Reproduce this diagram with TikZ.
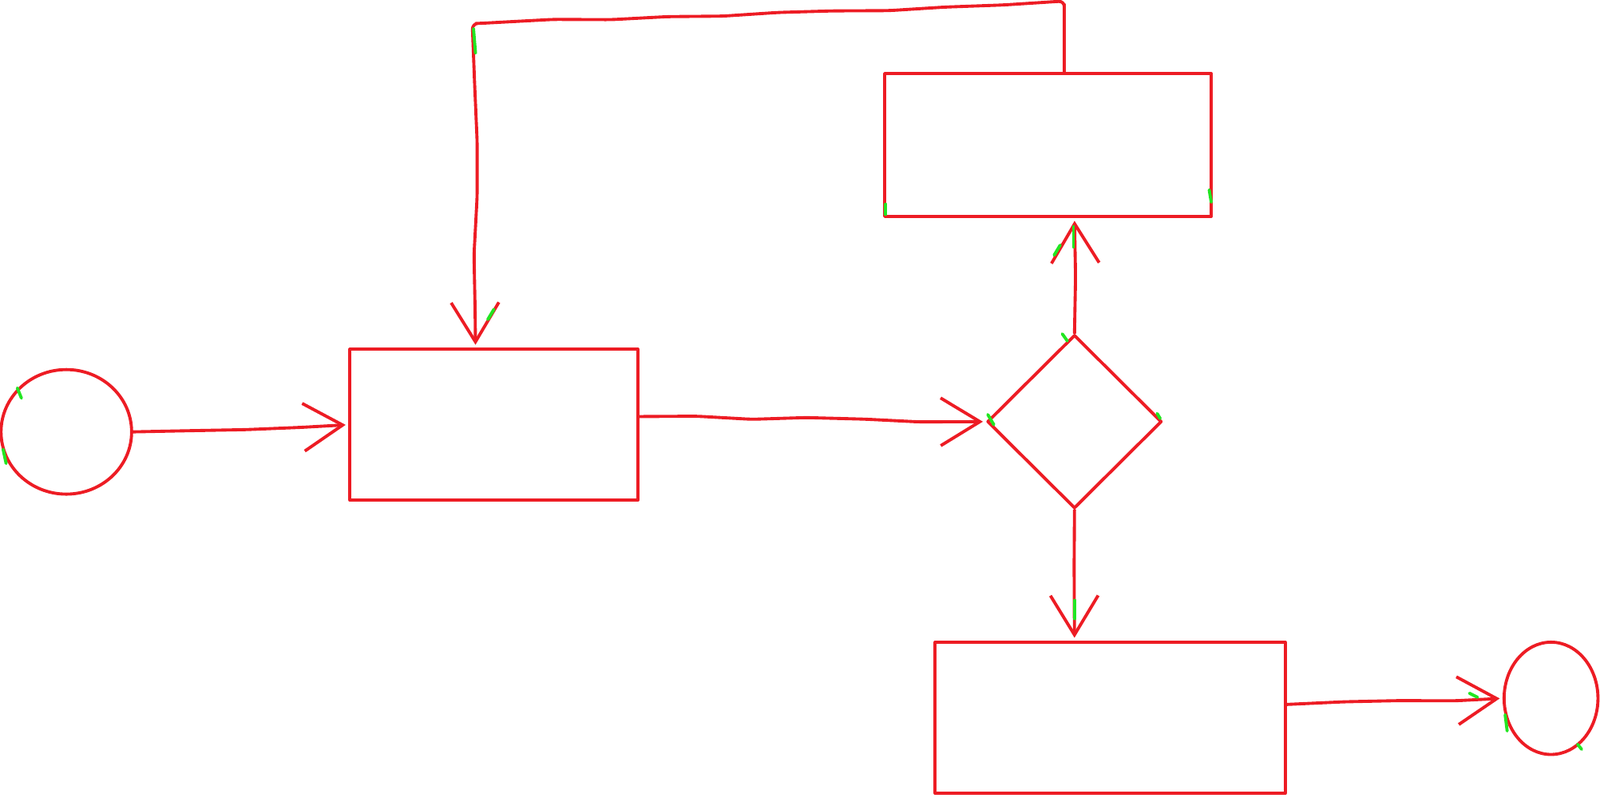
\documentclass[tikz,border=0pt]{standalone}
\usepackage{tikz}
\usetikzlibrary{positioning, shapes.geometric, arrows.meta, decorations.pathmorphing, calc}
\definecolor{Pen-Red}{RGB}{237,28,36}
\definecolor{Pen-Green}{RGB}{34,230,34}
\newlength\px
\setlength\px{0.01278cm}

\begin{document}
\begin{tikzpicture}[x=\px, y=-\px]
      \tikzset{ pen/.style  ={draw=Pen-Red, line width=1.1pt, line cap=round, line join=round} }
      \tikzset{ ink/.style  ={draw=Pen-Green, line width=1.1pt, line cap=round} }
      \tikzset{ term/.style ={pen, ellipse, inner sep=0pt} }
      \tikzset{ proc/.style ={pen, rectangle, inner sep=0pt} }
      \tikzset{ cond/.style ={pen, diamond, inner sep=0pt, aspect=1} }
      \tikzset{ flow/.style ={pen, decoration={random steps, segment length=20pt, amplitude=0.6pt}, decorate, rounded corners=2pt, -{Straight Barb[length=14pt, width=17pt, line width=1.1pt]}, shorten >=1pt} }

      \useasboundingbox (0,0) rectangle (1568,781);

      \node[term, minimum width=128\px, minimum height=122\px] (start) at (65,423)   {};
      \node[proc, minimum width=282\px, minimum height=148\px] (recA)  at (484,416)  {};
      \node[cond, minimum width=171\px, minimum height=170\px] (dec)   at (1053,413) {};
      \node[proc, minimum width=320\px, minimum height=140\px] (recB)  at (1027,142) {};
      \node[proc, minimum width=343\px, minimum height=148\px] (recC)  at (1088,703) {};
      \node[term, minimum width=92\px,  minimum height=110\px] (stop)  at (1520,684) {};

      \coordinate (up)   at (1043,4);
      \coordinate (left) at (466,23);

      \draw[flow] (start.east) -- (recA.west);
      \draw[flow] (recA.east |- 0,408) -- (dec.west);
      \draw[flow] (dec.north) -- (recB.south -| dec.north);
      \draw[flow] (dec.south) -- (recC.north -| dec.south);
      \draw[flow] (recC.east |- 0,690) -- (stop.west);
      \draw[flow] (recB.north -| up) -- (up) -- (left) -- (left |- recA.north);

      % green pen marks
      \draw[ink] (17,380) -- (21,390);
      \draw[ink] (3,440) -- (6,454);
      \draw[ink] (464,28) -- (466,52);
      \draw[ink] (478,313) -- (484,303);
      \draw[ink] (968,406) -- (974,416);
      \draw[ink] (1134,405) -- (1137,410);
      \draw[ink] (1041,327) -- (1046,334);
      \draw[ink] (1052,222) -- (1052,242);
      \draw[ink] (1033,250) -- (1039,240);
      \draw[ink] (1053,588) -- (1053,606);
      \draw[ink] (1185,186) -- (1187,198);
      \draw[ink] (868,200) -- (868,210);
      \draw[ink] (1475,700) -- (1477,716);
      \draw[ink] (1440,679) -- (1448,683);
      \draw[ink] (1546,729) -- (1550,734);
    \end{tikzpicture}
\end{document}
